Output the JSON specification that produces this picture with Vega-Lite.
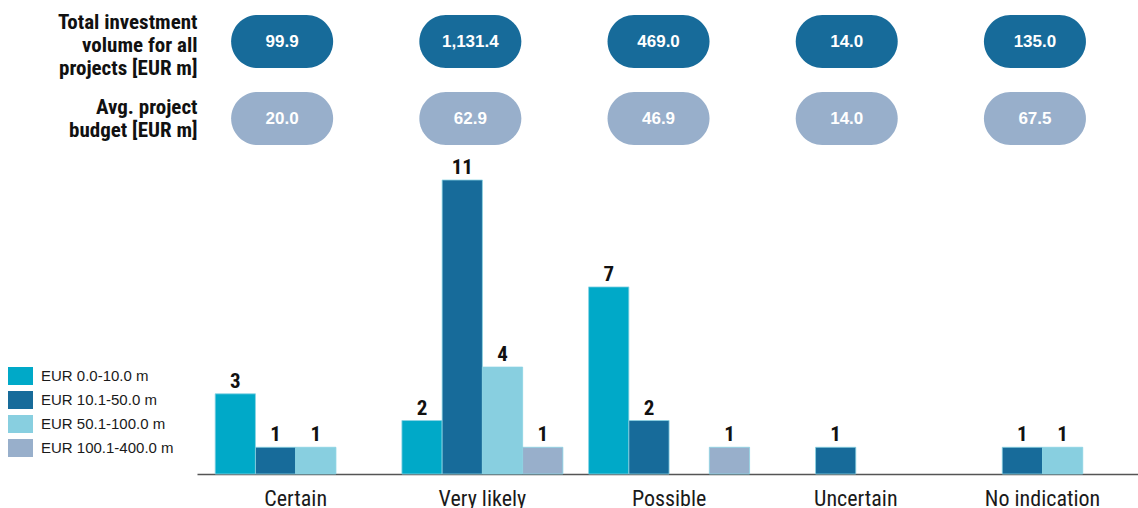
{
  "$schema": "https://vega.github.io/schema/vega-lite/v6.json",
  "padding": {"left": 8, "top": 3, "right": 0, "bottom": 0},
  "background": "white",
  "config": {
    "font": "Roboto Condensed, Liberation Sans Narrow, Arial Narrow, sans-serif",
    "view": {"stroke": null},
    "concat": {"spacing": 0}
  },
  "datasets": {
    "pills": [
      {"status": "Certain", "row": "Total investment volume for all projects [EUR m]", "value": 99.9},
      {"status": "Very likely", "row": "Total investment volume for all projects [EUR m]", "value": 1131.4},
      {"status": "Possible", "row": "Total investment volume for all projects [EUR m]", "value": 469.0},
      {"status": "Uncertain", "row": "Total investment volume for all projects [EUR m]", "value": 14.0},
      {"status": "No indication", "row": "Total investment volume for all projects [EUR m]", "value": 135.0},
      {"status": "Certain", "row": "Avg. project budget [EUR m]", "value": 20.0},
      {"status": "Very likely", "row": "Avg. project budget [EUR m]", "value": 62.9},
      {"status": "Possible", "row": "Avg. project budget [EUR m]", "value": 46.9},
      {"status": "Uncertain", "row": "Avg. project budget [EUR m]", "value": 14.0},
      {"status": "No indication", "row": "Avg. project budget [EUR m]", "value": 67.5}
    ],
    "bars": [
      {"status": "Certain", "range": "EUR 0.0-10.0 m", "count": 3},
      {"status": "Certain", "range": "EUR 10.1-50.0 m", "count": 1},
      {"status": "Certain", "range": "EUR 50.1-100.0 m", "count": 1},
      {"status": "Very likely", "range": "EUR 0.0-10.0 m", "count": 2},
      {"status": "Very likely", "range": "EUR 10.1-50.0 m", "count": 11},
      {"status": "Very likely", "range": "EUR 50.1-100.0 m", "count": 4},
      {"status": "Very likely", "range": "EUR 100.1-400.0 m", "count": 1},
      {"status": "Possible", "range": "EUR 0.0-10.0 m", "count": 7},
      {"status": "Possible", "range": "EUR 10.1-50.0 m", "count": 2},
      {"status": "Possible", "range": "EUR 100.1-400.0 m", "count": 1},
      {"status": "Uncertain", "range": "EUR 10.1-50.0 m", "count": 1},
      {"status": "No indication", "range": "EUR 10.1-50.0 m", "count": 1},
      {"status": "No indication", "range": "EUR 50.1-100.0 m", "count": 1}
    ]
  },
  "vconcat": [
    {
      "width": 941,
      "height": 154,
      "data": {"name": "pills"},
      "encoding": {
        "x": {
          "field": "status", "type": "nominal",
          "sort": ["Certain", "Very likely", "Possible", "Uncertain", "No indication"],
          "scale": {"paddingInner": 0.1377, "paddingOuter": 0.0889, "align": 0.548},
          "axis": null
        },
        "y": {
          "field": "row", "type": "nominal",
          "sort": ["Total investment volume for all projects [EUR m]", "Avg. project budget [EUR m]"],
          "scale": {"paddingInner": 0, "paddingOuter": 0},
          "axis": {
            "title": null, "domain": false, "ticks": false, "tickSize": 0, "labelPadding": 0,
            "labelFontSize": 21, "labelFontWeight": "bold", "labelColor": "#111111", "labelAlign": "right",
            "labelBaseline": "middle", "labelLineHeight": 23, "labelLimit": 300,
            "labelExpr": "datum.value == 'Avg. project budget [EUR m]' ? ['Avg. project', 'budget [EUR m]'] : ['Total investment', 'volume for all', 'projects [EUR m]']",
            "labelOffset": {"condition": {"test": "datum.value == 'Avg. project budget [EUR m]'", "value": -11.5}, "value": -19.5}
          }
        }
      },
      "layer": [
        {
          "mark": {
            "type": "point", "filled": true, "opacity": 1, "strokeWidth": 0, "size": 10404, "xOffset": -18,
            "shape": "M -0.4804 -0.5196 L 0.4804 -0.5196 C 0.7674 -0.5196 1 -0.287 1 0 C 1 0.287 0.7674 0.5196 0.4804 0.5196 L -0.4804 0.5196 C -0.7674 0.5196 -1 0.287 -1 0 C -1 -0.287 -0.7674 -0.5196 -0.4804 -0.5196 Z"
          },
          "encoding": {
            "fill": {
              "field": "row", "type": "nominal",
              "scale": {"domain": ["Total investment volume for all projects [EUR m]", "Avg. project budget [EUR m]"], "range": ["#176B9A", "#98AFCB"]},
              "legend": null
            }
          }
        },
        {
          "mark": {"type": "text", "color": "white", "font": "Liberation Sans, Arial, sans-serif", "fontWeight": "bold", "fontSize": 17, "xOffset": -18, "baseline": "middle"},
          "encoding": {"text": {"field": "value", "type": "quantitative", "format": ",.1f"}}
        }
      ]
    },
    {
      "width": 941,
      "height": 294,
      "data": {"name": "bars"},
      "encoding": {
        "x": {
          "field": "status", "type": "nominal",
          "sort": ["Certain", "Very likely", "Possible", "Uncertain", "No indication"],
          "scale": {"paddingInner": 0.1377, "paddingOuter": 0.0889, "align": 0.548},
          "axis": {
            "title": null, "labelAngle": 0, "labelFontSize": 22, "labelColor": "#1a1a1a", "labelBaseline": "top",
            "domainColor": "#555555", "domainWidth": 1.5, "ticks": false, "tickSize": 0, "labelPadding": 14
          }
        },
        "xOffset": {
          "field": "range", "type": "nominal",
          "scale": {"domain": ["EUR 0.0-10.0 m", "EUR 10.1-50.0 m", "EUR 50.1-100.0 m", "EUR 100.1-400.0 m"], "paddingInner": 0, "paddingOuter": 0}
        },
        "y": {"field": "count", "type": "quantitative", "scale": {"domain": [0, 11], "nice": false}, "axis": null}
      },
      "layer": [
        {
          "mark": {"type": "bar", "stroke": "#8ad3e3", "strokeWidth": 0.8},
          "encoding": {
            "color": {
              "field": "range", "type": "nominal",
              "scale": {"domain": ["EUR 0.0-10.0 m", "EUR 10.1-50.0 m", "EUR 50.1-100.0 m", "EUR 100.1-400.0 m"], "range": ["#00A9C8", "#176B9A", "#88CFE0", "#98AFCB"]},
              "legend": {
                "title": null, "orient": "none", "legendX": -189, "legendY": 360.5, "padding": 0,
                "symbolType": "M -1 -0.72 L 1 -0.72 L 1 0.72 L -1 0.72 Z", "symbolSize": 625,
                "symbolStrokeWidth": 0, "labelFont": "Liberation Sans, Arial, sans-serif", "labelFontSize": 15, "labelColor": "#1a1a1a", "rowPadding": 2, "labelOffset": 8
              }
            }
          }
        },
        {
          "mark": {"type": "text", "baseline": "alphabetic", "dy": -6, "fontSize": 21, "fontWeight": "bold", "color": "#111111"},
          "encoding": {"text": {"field": "count", "type": "quantitative"}}
        }
      ]
    }
  ]
}
